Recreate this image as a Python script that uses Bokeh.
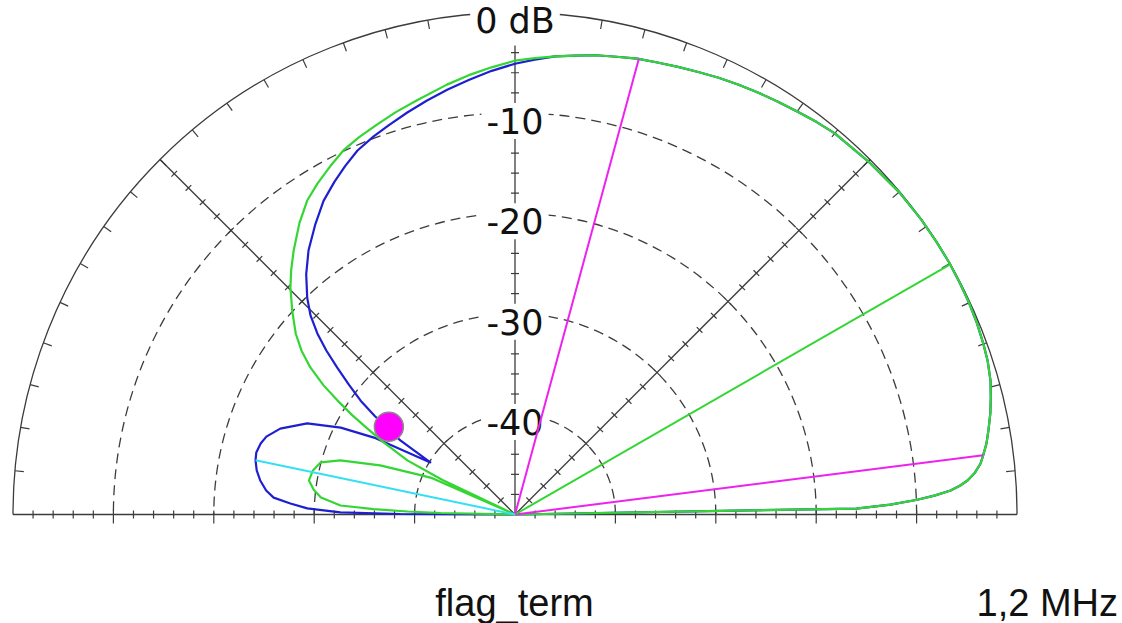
import numpy as np
from bokeh.plotting import figure
from bokeh.models import Range1d, ColumnDataSource
from bokeh.core.properties import value
from bokeh.embed import file_html
from bokeh.resources import INLINE

# ---------------- data (elevation angle in degrees, gain in dB) ----------------
ring_db = [0, -10, -20, -30, -40]
ring_labels = ["0 dB", "-10", "-20", "-30", "-40"]

# main lobe, right part (shared by both traces)
main_ang = [0, 1.0, 1.5, 2.1, 2.6, 3.15, 3.7, 4.3, 5.2, 6.25, 7.2, 8.6, 10.1, 12, 13.8,
            15.7, 18, 20, 22.5, 25, 27.5, 30, 33, 36, 40, 45, 50, 52.5, 55, 57.5, 60,
            62.5, 65, 67.5, 70, 72.5, 75, 77.5, 80, 82.5, 85]
main_db = [-50, -16.0, -12.6, -9.9, -8.1, -6.55, -5.6, -4.8, -4.0, -3.35, -3.0, -2.5,
           -2.1, -1.6, -1.2, -0.8, -0.5, -0.35, -0.2, -0.1, -0.05, 0.0, 0.0, 0.0, -0.05,
           -0.25, -0.45, -0.7, -1.0, -1.25, -1.5, -1.75, -2.0, -2.3, -2.55, -2.8, -3.0,
           -3.3, -3.55, -3.9, -4.2]

blue_left_ang = [87.5, 90, 93, 96, 99, 102, 105, 108, 110.5, 113.4, 116, 118.5, 121.4,
                 124.5, 128, 131, 133.8, 135.8, 137.5, 139, 140.4, 142, 143.6, 144.9, 146,
                 147.1, 148.4, 150.0, 151.4, 153.5, 156.3, 159.9, 162.6, 164.4, 166.5,
                 168.2, 170.3, 172.4, 174.5, 176.0, 177.2, 178.3, 179.3, 179.75, 180]
blue_left_db = [-4.65, -5.1, -5.75, -6.45, -7.15, -7.85, -8.55, -9.25, -9.8, -10.5,
                -11.4, -12.3, -13.4, -14.9, -16.6, -18.3, -20.1, -21.6, -23.3, -25.1,
                -27.0, -29.0, -30.9, -32.9, -34.6, -36.4, -40.1, -37.6, -34.0, -30.6,
                -27.4, -25.1, -24.05, -23.7, -23.5, -23.6, -23.9, -24.4, -25.1, -25.9,
                -27.6, -29.3, -32.6, -38.6, -50]

green_left_ang = [87.5, 90, 93, 96, 99, 103.3, 106.5, 109.5, 112.5, 115.2, 118, 120.8,
                  123.5, 126.5, 130, 132.5, 134.7, 137.5, 140.5, 142.5, 144.3, 146, 147.3,
                  148.6, 149.8, 151.2, 153.3, 154.5, 155.5, 156.3, 157.6, 160, 162.8, 165,
                  167.7, 170.6, 173, 175, 177.05, 177.8, 178.4, 178.85, 180]
green_left_db = [-4.5, -4.8, -5.4, -6.0, -6.65, -7.6, -8.2, -8.8, -9.35, -9.9, -10.75,
                 -11.6, -12.5, -13.9, -15.7, -17.0, -18.2, -19.9, -21.7, -23.2, -24.9,
                 -27.0, -29.0, -31.0, -33.0, -35.0, -38.0, -42.0, -50, -41.0, -39.5,
                 -35.7, -31.8, -29.95, -29.4, -29.2, -29.8, -30.6, -32.6, -35.9, -39.3,
                 -42.6, -50]

# marker lines: low -3 dB, max, high -3 dB, side lobe peak
line_ang = [7.2, 29.9, 74.8, 168.2]
line_db = [-3.0, 0.0, -2.95, -23.6]
line_col = ["#ee22ee", "#33d633", "#ee22ee", "#33e0f2"]

cursor_ang = [145.2]
cursor_db = [-34.7]

name_text = "flag_term"
freq_text = "1,2 MHz"

# ---------------- geometry ----------------
R = 502.0        # radius of the 0 dB circle (px)
FLOOR = -50.0    # dB at centre


def rad(db):
    db = np.asarray(db, dtype=float)
    return np.clip(R * (db - FLOOR) / (-FLOOR), 0, None)


def pol(ang, db):
    a = np.radians(np.asarray(ang, dtype=float))
    r = rad(db)
    return r * np.cos(a), r * np.sin(a)


p = figure(width=1122, height=623,
           x_range=Range1d(-514.5, 607.5), y_range=Range1d(-109, 514),
           output_backend="svg", toolbar_location=None,
           x_axis_type=None, y_axis_type=None,
           min_border=0, min_border_left=0, min_border_right=0,
           min_border_top=0, min_border_bottom=0)
p.grid.visible = False
p.outline_line_color = None
p.background_fill_color = "white"
p.border_fill_color = "white"

GRID = "#3c3c3c"

# dashed rings
ring_r = rad(ring_db)
p.arc(x=0, y=0, radius=ring_r[1:], start_angle=0, end_angle=np.pi,
      line_color=GRID, line_width=1.3, line_dash="10 6")
# outer ring
p.arc(x=0, y=0, radius=R, start_angle=0, end_angle=np.pi,
      line_color=GRID, line_width=1.3)

# baseline and radial spokes
spoke_ang = np.radians([45, 90, 135])
p.segment(x0=[-R], y0=[0], x1=[R], y1=[0], line_color=GRID, line_width=1.3)
p.segment(x0=np.zeros(3), y0=np.zeros(3), x1=R * np.cos(spoke_ang),
          y1=R * np.sin(spoke_ang), line_color=GRID, line_width=1.3)

# ticks
step = R / 25.0  # 2 dB
tx0, ty0, tx1, ty1 = [], [], [], []
for k in range(1, 25):
    r = k * step
    for a in spoke_ang:
        cx, cy = r * np.cos(a), r * np.sin(a)
        nx, ny = -np.sin(a), np.cos(a)
        tx0.append(cx - 4 * nx); ty0.append(cy - 4 * ny)
        tx1.append(cx + 4 * nx); ty1.append(cy + 4 * ny)
    for s in (-1, 1):
        if k % 5 == 0:
            tx0.append(s * r); ty0.append(-9); tx1.append(s * r); ty1.append(4)
        else:
            tx0.append(s * r); ty0.append(-4); tx1.append(s * r); ty1.append(4)
for d in range(5, 180, 5):
    a = np.radians(d)
    tx0.append(R * np.cos(a)); ty0.append(R * np.sin(a))
    tx1.append((R - 9) * np.cos(a)); ty1.append((R - 9) * np.sin(a))
p.segment(x0=tx0, y0=ty0, x1=tx1, y1=ty1, line_color=GRID, line_width=1.2)

# ring labels with white boxes
lab_src = ColumnDataSource(dict(x=np.zeros(len(ring_db)), y=ring_r - 8,
                                t=ring_labels))
p.text(x="x", y="y", text="t", source=lab_src,
       text_font=value("DejaVu Sans"), text_font_size="35px",
       text_align="center", text_baseline="middle", text_color="#111111",
       background_fill_color="white", padding=5)

# traces
bx, by = pol(main_ang + blue_left_ang, main_db + blue_left_db)
gx, gy = pol(main_ang + green_left_ang, main_db + green_left_db)
p.line(bx, by, line_color="#1f1fd2", line_width=2.2, line_join="round")
p.line(gx, gy, line_color="#33d633", line_width=2.2, line_join="round")

# marker lines
lx, ly = pol(line_ang, line_db)
p.segment(x0=np.zeros(len(lx)), y0=np.zeros(len(ly)), x1=lx, y1=ly,
          line_color=line_col, line_width=2)

# cursor
cx, cy = pol(cursor_ang, cursor_db)
p.scatter(cx, cy, size=29, fill_color="#ff00ff", line_color="#8a8a8a", line_width=1.5)

# bottom texts
p.text(x=[-0.5], y=[-88], text=[name_text], text_font=value("Liberation Sans"),
       text_font_size="38px", text_align="center", text_baseline="middle",
       text_color="#111111")
p.text(x=[603], y=[-88], text=[freq_text], text_font=value("Liberation Sans"),
       text_font_size="38px", text_align="right", text_baseline="middle",
       text_color="#111111")

open("out.html", "w").write(file_html(p, INLINE))
